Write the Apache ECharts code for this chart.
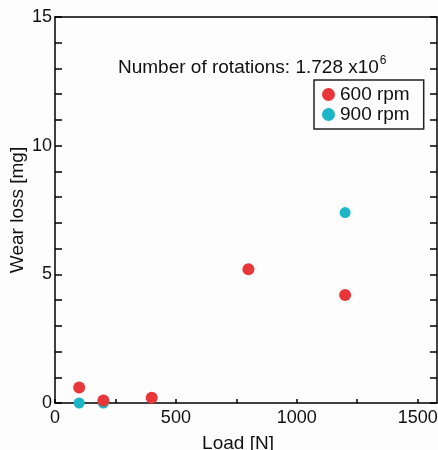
<!DOCTYPE html>
<html>
<head>
<meta charset="utf-8">
<script src="https://cdn.jsdelivr.net/npm/echarts@6/dist/echarts.min.js"></script>
<style>
  html, body { margin: 0; padding: 0; background: #fdfdfd; }
  #chart { width: 438px; height: 450px; }
</style>
</head>
<body>
<div id="chart"></div>
<script>
// load [N] and wear loss [mg]
const load600 = [100, 200, 400, 800, 1200];
const wear600 = [0.6, 0.1, 0.2, 5.2, 4.2];
const load900 = [100, 200, 1200];
const wear900 = [0, 0, 7.4];

const seriesNames = ['600 rpm', '900 rpm'];
const seriesColors = ['#e8363b', '#1db6c6'];

const pairs = (xs, ys) => xs.map((x, i) => [x, ys[i]]);

const font = 'Liberation Sans, Arial, sans-serif';
const chart = echarts.init(document.getElementById('chart'));

const lineStyle = { color: '#000', width: 1.5 };

// ticks every 1 mg, numbers only every 5
const yAxisBase = {
  type: 'value', min: 0, max: 15, interval: 1,
  axisLine: { show: true, onZero: false, lineStyle: lineStyle },
  axisTick: { show: true, inside: true, length: 7, lineStyle: lineStyle },
  splitLine: { show: false }
};

chart.setOption({
  animation: false,
  backgroundColor: '#fdfdfd',
  grid: { left: 55, right: 1, top: 17, bottom: 47, containLabel: false, outerBoundsMode: 'none' },
  title: {
    text: 'Number of rotations: 1.728 x10{sup|6}',
    left: 113, top: 50,
    textStyle: {
      fontFamily: font, fontSize: 19, fontWeight: 'normal', color: '#111',
      rich: { sup: { fontFamily: font, fontSize: 12, color: '#111', verticalAlign: 'top', padding: [0, 0, 14, 1] } }
    }
  },
  legend: {
    data: seriesNames,
    orient: 'vertical',
    left: 314, top: 80,
    padding: [5, 14, 5, 8],
    itemGap: 1,
    itemWidth: 13, itemHeight: 13,
    icon: 'circle',
    borderColor: '#222', borderWidth: 1.5,
    textStyle: { fontFamily: font, fontSize: 19, color: '#111' }
  },
  xAxis: [{
    type: 'value', min: 0, max: 1580, interval: 250,
    name: 'Load [N]', nameLocation: 'middle', nameGap: 31,
    nameTextStyle: { fontFamily: font, fontSize: 19, color: '#111', padding: [0, 16, 0, 0] },
    axisLine: { show: true, onZero: false, lineStyle: lineStyle },
    axisTick: { show: true, inside: true, length: 4, lineStyle: lineStyle },
    axisLabel: {
      fontFamily: font, fontSize: 18, color: '#111', margin: 6, showMaxLabel: false,
      formatter: v => (v % 500 === 0 ? String(v) : '')
    },
    splitLine: { show: false }
  }, {
    type: 'value', min: 0, max: 1580, position: 'top',
    axisLine: { show: true, onZero: false, lineStyle: lineStyle },
    axisTick: { show: false }, axisLabel: { show: false }, splitLine: { show: false }
  }],
  yAxis: [Object.assign({}, yAxisBase, {
    name: 'Wear loss [mg]', nameLocation: 'middle', nameGap: 28, nameMoveOverlap: false,
    nameTextStyle: { fontFamily: font, fontSize: 19, color: '#111' },
    axisLabel: {
      fontFamily: font, fontSize: 18, color: '#111', margin: 3,
      formatter: v => (v % 5 === 0 ? String(v) : '')
    }
  }), Object.assign({}, yAxisBase, {
    position: 'right', axisLabel: { show: false }
  })],
  series: [{
    name: seriesNames[1], type: 'scatter', clip: false,
    symbolSize: 11, itemStyle: { color: seriesColors[1], opacity: 1 },
    data: pairs(load900, wear900)
  }, {
    name: seriesNames[0], type: 'scatter', clip: false,
    symbolSize: 12, itemStyle: { color: seriesColors[0], opacity: 1 },
    data: pairs(load600, wear600)
  }]
});
</script>
</body>
</html>
